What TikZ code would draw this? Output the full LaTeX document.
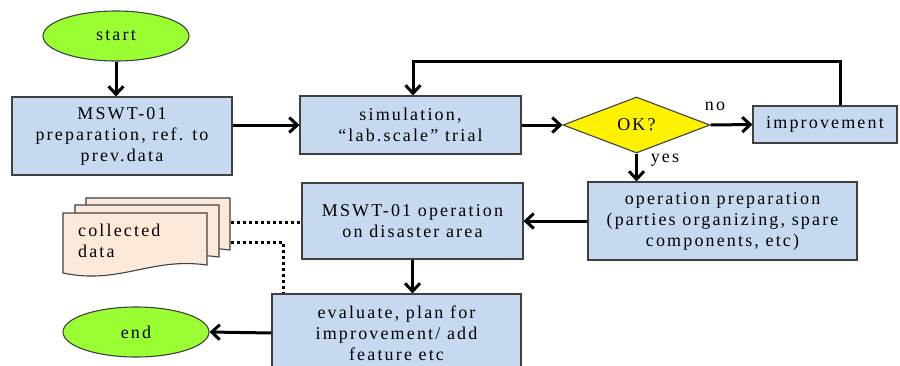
\documentclass[tikz,border=0pt]{standalone}
\usepackage{fontspec}
\setmainfont{Liberation Serif}[LetterSpace=12]
\usetikzlibrary{arrows.meta,shapes.geometric}
\definecolor{boxblue}{RGB}{198,217,241}
\definecolor{lime}{RGB}{153,255,51}
\definecolor{docpeach}{RGB}{253,233,217}
\definecolor{edge}{RGB}{64,64,64}
\tikzset{
  base/.style={draw=edge, line width=1.1pt, font=\fontsize{18}{21}\selectfont, align=center, inner sep=0pt},
  procbox/.style={base, rectangle, fill=boxblue},
  term/.style={base, ellipse, fill=lime, minimum width=146pt, minimum height=50pt},
  decide/.style={base, diamond, fill=yellow, minimum width=147pt, minimum height=56pt, aspect=2.6},
  arr/.style={line width=3pt, -{Straight Barb[length=8pt,width=15pt]}},
  dotline/.style={line width=3pt, dash pattern=on 3pt off 3pt},
  sheet/.style={draw=edge, line width=1.1pt, fill=docpeach},
  lbl/.style={font=\fontsize{18}{21}\selectfont, inner sep=0pt}
}
\begin{document}
\begin{tikzpicture}[x=1pt,y=-1pt]
\useasboundingbox (0,0) rectangle (900,365);
% nodes
\node[term] (start) at (116,36) {start};
\node[procbox, minimum width=220pt, minimum height=78pt] (prep) at (122,136) {MSWT-01\\preparation, ref. to\\prev.data};
\node[procbox, minimum width=221pt, minimum height=58pt] (sim) at (410.5,125) {simulation,\\``lab.scale'' trial};
\node[decide] (ok) at (636.5,125) {OK?};
\node[procbox, minimum width=144pt, minimum height=37pt] (impr) at (825,124.5) {improvement};
\node[procbox, minimum width=269pt, minimum height=78pt] (opprep) at (722.5,221) {operation preparation\\(parties organizing, spare\\components, etc)};
\node[procbox, minimum width=221pt, minimum height=76pt] (op) at (412.5,221) {MSWT-01 operation\\on disaster area};
\node[procbox, minimum width=249pt, minimum height=78pt] (eval) at (396.5,333) {evaluate, plan for\\improvement/ add\\feature etc};
\node[term] (end) at (136,332) {end};
% collected data (multi-document)
\foreach \L/\T in {86/198, 75/205, 63/213}{
  \draw[sheet] (\L,\T) -- (\L+144,\T) -- (\L+144,\T+52)
    .. controls (\L+87,\T+44) and (\L+57,\T+72) .. (\L,\T+60) -- cycle;
}
\node[lbl, align=left, anchor=west] (data) at (78,241) {collected\\data};
\coordinate (d1) at (231,222);
\coordinate (d2) at (231,242);
\coordinate (dv) at (283,0);
% connectors
\draw[arr] (start.south) -- (start.south |- prep.north);
\draw[arr] (prep.east |- sim.west) -- (sim.west);
\draw[arr] (sim.east) -- (ok.west);
\draw[arr] (ok.east) -- (impr.west);
\draw[arr] (ok.south) -- (ok.south |- opprep.north);
\coordinate (fb1) at (840,61);
\coordinate (fb2) at (413,61);
\draw[arr] (impr.north -| fb1) -- (fb1) -- (fb2) -- (sim.north -| fb2);
\draw[arr] (opprep.west) -- (op.east);
\draw[arr] (op.south) -- (op.south |- eval.north);
\draw[arr] (eval.west) -- (end.east);
\draw[dotline] (d1) -- (op.west |- d1);
\draw[dotline] (d2) -| (dv |- eval.north);
% labels
\node[lbl] (nolbl) at (715,106) {no};
\node[lbl] (yeslbl) at (665,160) {yes};
\end{tikzpicture}
\end{document}
